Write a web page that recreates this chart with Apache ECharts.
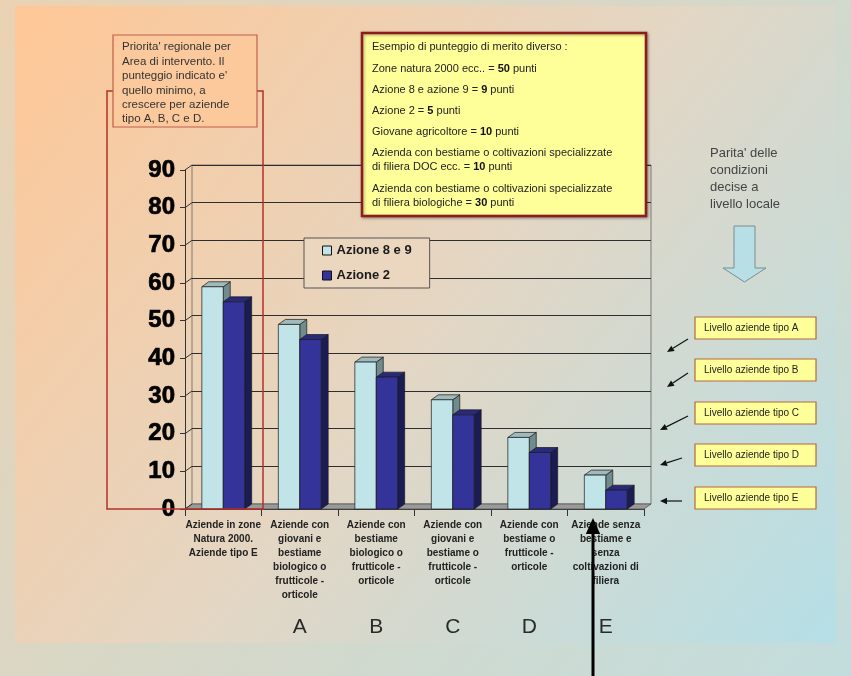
<!DOCTYPE html>
<html>
<head>
<meta charset="utf-8">
<script src="https://cdn.jsdelivr.net/npm/echarts@6/dist/echarts.min.js"></script>
<style>
  html, body { margin: 0; padding: 0; }
  #chart { width: 851px; height: 676px; }
</style>
</head>
<body>
<div id="chart"></div>
<script>
// Categories of farms (x axis) and the minimum regional score for each
const categories = [
  'Aziende in zone\nNatura 2000.\nAziende tipo E',
  'Aziende con\ngiovani e\nbestiame\nbiologico o\nfrutticole -\norticole',
  'Aziende con\nbestiame\nbiologico o\nfrutticole -\norticole',
  'Aziende con\ngiovani e\nbestiame o\nfrutticole -\norticole',
  'Aziende con\nbestiame o\nfrutticole -\norticole',
  'Aziende senza\nbestiame e\nsenza\ncoltivazioni di\nfiliera'
];
const seriesNames = ['Azione 8 e 9', 'Azione 2'];
const azione89 = [59, 49, 39, 29, 19, 9];
const azione2 = [55, 45, 35, 25, 15, 5];
const typeLetters = ['', 'A', 'B', 'C', 'D', 'E'];
const yMin = 0, yMax = 90, yStep = 10;
const yTicks = [0, 10, 20, 30, 40, 50, 60, 70, 80, 90];
const levelLabels = [
  'Livello aziende tipo A',
  'Livello aziende tipo B',
  'Livello aziende tipo C',
  'Livello aziende tipo D',
  'Livello aziende tipo E'
];
const noteLeft = "Priorita' regionale per\nArea di intervento. Il\npunteggio indicato e'\nquello minimo, a\ncrescere per aziende\ntipo A, B, C e D.";
const noteRight = "Parita' delle\ncondizioni\ndecise a\nlivello locale";
const exampleTitle = 'Esempio di punteggio di merito diverso :';
const exampleLines = [
  'Zone natura 2000 ecc.. = {b|50} punti',
  'Azione 8 e azione 9 = {b|9} punti',
  'Azione 2 = {b|5} punti',
  'Giovane agricoltore = {b|10} punti',
  'Azienda con bestiame o coltivazioni specializzate\ndi filiera DOC ecc. = {b|10} punti',
  'Azienda con bestiame o coltivazioni specializzate\ndi filiera biologiche = {b|30} punti'
];

const FONT = '"Liberation Sans", Arial, sans-serif';
const DEPTH_X = 7, DEPTH_Y = -5;

const palette = {
  light: { front: '#c0e4e8', top: '#9fb9bc', side: '#6f8b8d' },
  dark:  { front: '#333399', top: '#2a2a7a', side: '#1c1c55' }
};

// 3D-looking bar: front face, top face, right side face
function barRenderer(slot, colors) {
  return function (params, api) {
    const i = api.value(0), v = api.value(1);
    const top = api.coord([i, v]);
    const base = api.coord([i, 0]);
    const band = api.size([1, 0])[0];
    const w = band * 0.28;
    const x = top[0] - band / 2 + band * 0.22 + slot * w;
    const yT = top[1], yB = base[1];
    const edge = { stroke: '#1a1a1a', lineWidth: 0.7 };
    return {
      type: 'group',
      children: [
        { type: 'polygon', shape: { points: [[x + w, yT], [x + w + DEPTH_X, yT + DEPTH_Y], [x + w + DEPTH_X, yB + DEPTH_Y], [x + w, yB]] },
          style: Object.assign({ fill: colors.side }, edge) },
        { type: 'polygon', shape: { points: [[x, yT], [x + w, yT], [x + w + DEPTH_X, yT + DEPTH_Y], [x + DEPTH_X, yT + DEPTH_Y]] },
          style: Object.assign({ fill: colors.top }, edge) },
        { type: 'rect', shape: { x: x, y: yT, width: w, height: yB - yT },
          style: Object.assign({ fill: colors.front }, edge) }
      ]
    };
  };
}

// Grey floor under the bars
function floorRenderer(params, api) {
  const band = api.size([1, 0])[0];
  const p0 = api.coord([0, 0]);
  const p1 = api.coord([categories.length - 1, 0]);
  const l = p0[0] - band / 2, r = p1[0] + band / 2, y = p0[1];
  return {
    type: 'polygon',
    shape: { points: [[l, y], [r, y], [r + DEPTH_X, y + DEPTH_Y], [l + DEPTH_X, y + DEPTH_Y]] },
    style: { fill: '#9a9a9a', stroke: '#555', lineWidth: 0.8 }
  };
}

// Diagonal joins between the front value axis and the back wall
function connectorRenderer(params, api) {
  const v = api.value(0);
  const band = api.size([1, 0])[0];
  const p = api.coord([0, v]);
  const l = p[0] - band / 2;
  return {
    type: 'line',
    shape: { x1: l, y1: p[1], x2: l + DEPTH_X, y2: p[1] + DEPTH_Y },
    style: { stroke: '#333', lineWidth: 1 }
  };
}

function arrow(x1, y1, x2, y2, head, width, color) {
  const a = Math.atan2(y2 - y1, x2 - x1);
  const hw = head * 0.45;
  const bx = x2 - head * Math.cos(a), by = y2 - head * Math.sin(a);
  return [
    { type: 'line', z: 60, shape: { x1: x1, y1: y1, x2: bx, y2: by }, style: { stroke: color, lineWidth: width } },
    { type: 'polygon', z: 60, shape: { points: [[x2, y2],
        [bx + hw * Math.sin(a), by - hw * Math.cos(a)],
        [bx - hw * Math.sin(a), by + hw * Math.cos(a)]] }, style: { fill: color } }
  ];
}

const graphics = [];

// Slide background
graphics.push({
  type: 'rect', z: -100, silent: true,
  shape: { x: 15, y: 6, width: 821, height: 637 },
  style: { fill: new echarts.graphic.LinearGradient(0, 0, 1, 1, [
    { offset: 0, color: '#ffc796' },
    { offset: 0.5, color: '#e4d6c3' },
    { offset: 1, color: '#b5dfe7' }
  ]) }
});

// Red frame around the first category
graphics.push({
  type: 'rect', z: 40,
  shape: { x: 107, y: 91, width: 156, height: 418 },
  style: { fill: null, stroke: '#b3322b', lineWidth: 1.5 }
});

// Left note box
graphics.push({
  type: 'rect', z: 45,
  shape: { x: 113, y: 35, width: 144, height: 92 },
  style: { fill: '#fcc99c', stroke: '#c0604a', lineWidth: 1.2 }
});
graphics.push({
  type: 'text', z: 46, x: 122, y: 40,
  style: { text: noteLeft, font: '11.5px ' + FONT, fill: '#333', lineHeight: 14.4 }
});

// Scoring example box
graphics.push({
  type: 'rect', z: 45,
  shape: { x: 362, y: 33, width: 284, height: 183 },
  style: { fill: '#ffff99', stroke: '#8e1c1c', lineWidth: 2.5,
           shadowBlur: 3, shadowColor: 'rgba(0,0,0,0.35)', shadowOffsetX: 1, shadowOffsetY: 1 }
});
const exampleYs = [69, 90, 111, 132, 160, 196];
graphics.push({
  type: 'text', z: 46, x: 372, y: 47,
  style: { text: exampleTitle, font: '11px ' + FONT, fill: '#222', verticalAlign: 'middle' }
});
exampleLines.forEach(function (t, k) {
  graphics.push({
    type: 'text', z: 46, x: 372, y: exampleYs[k],
    style: {
      text: t, font: '11px ' + FONT, fill: '#222', verticalAlign: 'middle', lineHeight: 14,
      rich: { b: { fontWeight: 'bold', fontSize: 11, fontFamily: FONT, fill: '#111', lineHeight: 14 } }
    }
  });
});

// Right-side note and arrow
graphics.push({
  type: 'text', z: 46, x: 710, y: 145,
  style: { text: noteRight, font: '13px ' + FONT, fill: '#444', lineHeight: 17 }
});
graphics.push({
  type: 'polygon', z: 46,
  shape: { points: [[734, 226], [755, 226], [755, 268], [766, 268], [744.5, 282], [723, 268], [734, 268]] },
  style: { fill: '#b8dfe6', stroke: '#7d8d8f', lineWidth: 1 }
});

// Level boxes with pointers
const levelTops = [317, 359, 402, 444, 487];
const pointers = [
  [688, 339, 667, 352], [688, 373, 667, 387], [688, 416, 660, 430], [682, 458, 660, 465], [682, 501, 660, 501]
];
levelLabels.forEach(function (t, k) {
  graphics.push({
    type: 'rect', z: 45,
    shape: { x: 695, y: levelTops[k], width: 121, height: 22 },
    style: { fill: '#ffff99', stroke: '#b5683f', lineWidth: 1.2 }
  });
  graphics.push({
    type: 'text', z: 46, x: 704, y: levelTops[k] + 11,
    style: { text: t, font: '10px ' + FONT, fill: '#222', verticalAlign: 'middle' }
  });
  const p = pointers[k];
  arrow(p[0], p[1], p[2], p[3], 7, 1.2, '#111').forEach(function (g) { graphics.push(g); });
});

// Vertical pointer under category E
arrow(593, 676, 593, 518, 16, 3, '#000').forEach(function (g) { g.z = 70; graphics.push(g); });

const chart = echarts.init(document.getElementById('chart'), null, { renderer: 'canvas' });

chart.setOption({
  animation: false,
  backgroundColor: new echarts.graphic.LinearGradient(0, 0, 1, 1, [
    { offset: 0, color: '#ead2b3' },
    { offset: 1, color: '#c2dddd' }
  ]),
  textStyle: { fontFamily: FONT },
  grid: [
    { left: 185, top: 170, width: 459, height: 339, show: false },
    { left: 192, top: 165, width: 459, height: 339, show: true,
      borderColor: '#7a7a7a', borderWidth: 1, backgroundColor: 'transparent' }
  ],
  legend: {
    data: seriesNames,
    orient: 'vertical',
    left: 304, top: 238,
    padding: [6, 18, 6, 18],
    itemGap: 12,
    itemWidth: 9, itemHeight: 9,
    icon: 'rect',
    backgroundColor: '#ebd6bf',
    borderColor: '#555', borderWidth: 1,
    itemStyle: { borderColor: '#111', borderWidth: 1 },
    textStyle: { fontSize: 13, fontWeight: 'bold', color: '#1a1a1a', lineHeight: 13, fontFamily: FONT },
    z: 30
  },
  xAxis: [
    {
      gridIndex: 0, type: 'category', data: categories,
      axisLine: { show: true, lineStyle: { color: '#333', width: 1 } },
      axisTick: { show: true, length: 7, interval: 0, lineStyle: { color: '#333' } },
      axisLabel: { interval: 0, fontSize: 10, fontWeight: 'bold', color: '#222', lineHeight: 14, margin: 9, fontFamily: FONT },
      splitLine: { show: false }
    },
    {
      gridIndex: 1, type: 'category', data: categories, show: false
    },
    {
      gridIndex: 0, type: 'category', data: typeLetters, position: 'bottom',
      axisLine: { show: false }, axisTick: { show: false },
      axisLabel: { interval: 0, fontSize: 21, color: '#2a2a2a', margin: 108, fontFamily: FONT }
    }
  ],
  yAxis: [
    {
      gridIndex: 0, type: 'value', min: yMin, max: yMax, interval: yStep,
      axisLine: { show: true, lineStyle: { color: '#333', width: 1 } },
      axisTick: { show: true, length: 5, lineStyle: { color: '#333' } },
      axisLabel: { fontSize: 24, fontWeight: 'bold', color: '#000', margin: 10, fontFamily: FONT,
                   textBorderColor: '#000', textBorderWidth: 0.7 },
      splitLine: { show: false }
    },
    {
      gridIndex: 1, type: 'value', min: yMin, max: yMax, interval: yStep,
      axisLine: { show: false }, axisTick: { show: false }, axisLabel: { show: false },
      splitLine: { show: true, lineStyle: { color: '#2e2e2e', width: 1 } }
    }
  ],
  series: [
    {
      type: 'custom', name: 'floor', xAxisIndex: 0, yAxisIndex: 0, z: 3,
      renderItem: floorRenderer, data: [[0, 0]], silent: true
    },
    {
      type: 'custom', name: 'connectors', xAxisIndex: 0, yAxisIndex: 0, z: 3,
      renderItem: connectorRenderer, data: yTicks.map(function (v) { return [v]; }), silent: true,
      encode: { y: 0 }
    },
    {
      type: 'custom', name: seriesNames[0], xAxisIndex: 0, yAxisIndex: 0, z: 5,
      itemStyle: { color: palette.light.front },
      renderItem: barRenderer(0, palette.light),
      data: azione89.map(function (v, i) { return [i, v]; }),
      encode: { x: 0, y: 1 }
    },
    {
      type: 'custom', name: seriesNames[1], xAxisIndex: 0, yAxisIndex: 0, z: 6,
      itemStyle: { color: palette.dark.front },
      renderItem: barRenderer(1, palette.dark),
      data: azione2.map(function (v, i) { return [i, v]; }),
      encode: { x: 0, y: 1 }
    }
  ],
  graphic: graphics
});
</script>
</body>
</html>
